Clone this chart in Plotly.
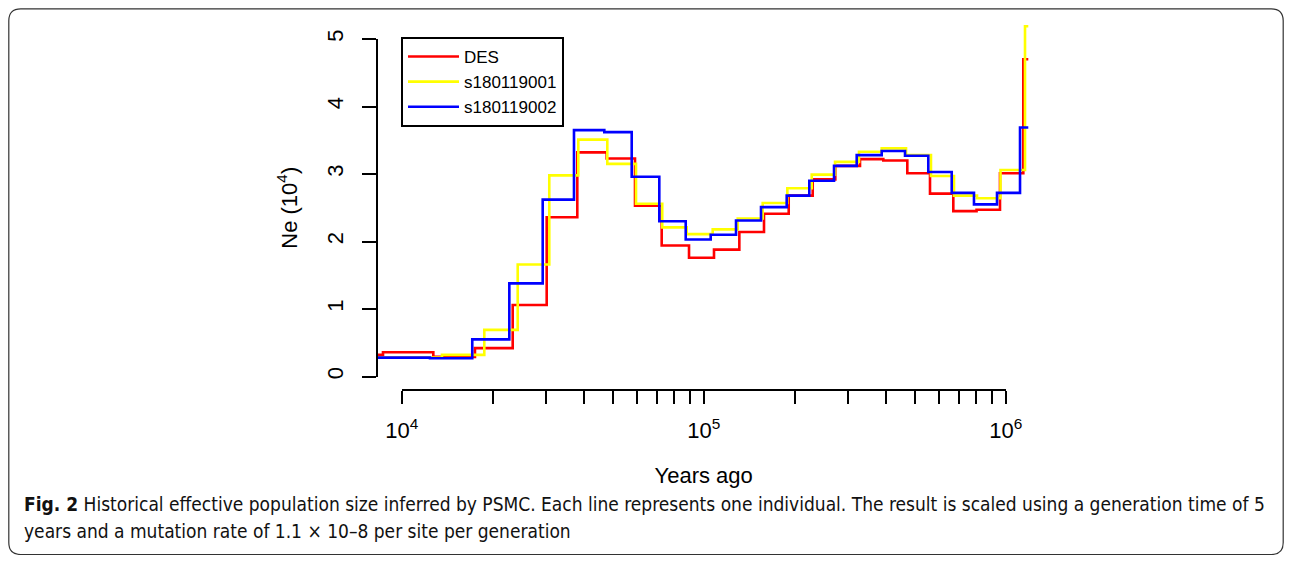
import plotly.graph_objects as go

# ---------------- data (years ago, Ne in units of 10^4) ----------------
des_years = [8283, 8671, 12725, 17481, 23311, 30206, 38146, 47730, 59225, 72594,
             89413, 108170, 131220, 158370, 191200, 229600, 272800, 329300, 393300,
             472300, 561500, 670700, 800700, 957400, 1143700, 1188000]
des_ne = [0.32, 0.36, 0.29, 0.42, 1.06, 2.36, 3.32, 3.23, 2.53, 1.94,
          1.76, 1.88, 2.14, 2.41, 2.68, 2.92, 3.12, 3.22, 3.20,
          3.01, 2.71, 2.45, 2.47, 3.01, 4.70, 4.70]

s1_years = [8283, 13594, 18771, 24218, 30810, 38437, 47950, 59690, 72900, 87860,
            107110, 129630, 156800, 189200, 227900, 272200, 326800, 388500,
            467700, 565700, 674300, 803500, 961100, 1158600, 1188000]
s1_ne = [0.28, 0.32, 0.69, 1.66, 2.98, 3.51, 3.15, 2.56, 2.21, 2.11,
         2.18, 2.34, 2.57, 2.79, 2.99, 3.18, 3.33, 3.38,
         3.28, 2.97, 2.68, 2.64, 3.06, 5.19, 5.19]

s2_years = [8283, 12406, 17126, 22717, 29301, 37197, 46870, 57760, 71280, 87190,
            105480, 127940, 154800, 188300, 223700, 270100, 321100, 388500,
            464100, 554200, 662600, 785200, 935900, 1115400, 1188000]
s2_ne = [0.28, 0.27, 0.55, 1.38, 2.62, 3.65, 3.62, 2.96, 2.30, 2.03,
         2.10, 2.31, 2.51, 2.68, 2.90, 3.12, 3.28, 3.34,
         3.27, 3.03, 2.72, 2.55, 2.72, 3.69, 3.69]

series_names = ["DES", "s180119001", "s180119002"]
series_colors = ["#FF0000", "#FFFF00", "#0000FF"]

x_major_vals = [1e4, 1e5, 1e6]
x_major_text = ["10<sup>4</sup>", "10<sup>5</sup>", "10<sup>6</sup>"]
x_minor_vals = [2e4, 3e4, 4e4, 5e4, 6e4, 7e4, 8e4, 9e4,
                2e5, 3e5, 4e5, 5e5, 6e5, 7e5, 8e5, 9e5]
y_tick_vals = [0, 1, 2, 3, 4, 5]

caption_bold = "Fig. 2"
caption_line1 = (" Historical effective population size inferred by PSMC. Each line represents "
                 "one individual. The result is scaled using a generation time of 5")
caption_line2 = "years and a mutation rate of 1.1 × 10–8 per site per generation"

# ---------------- geometry helpers (page pixels -> paper) ----------------
OFF = 8                      # default body margin of the html page
W, H = 1292 - 2 * OFF, 563 - 2 * OFF
def px(x):
    return (x - OFF) / W
def py(y):
    return 1 - (y - OFF) / H

X0PX, DEC = 401.7, 302.0      # page pixel of 10^4, pixels per decade
Y0PX, UNIT = 376.5, 67.5      # page pixel of Ne=0, pixels per unit

def xlog_at(p):
    return 4 + (p - X0PX) / DEC

def yval_at(p):
    return (Y0PX - p) / UNIT

plot_l, plot_r = 377, 1040
plot_t, plot_b = 12, 397

FONT = "Liberation Sans, Arial, Helvetica, sans-serif"

fig = go.Figure()
for xs, ys, name, col in zip([des_years, s1_years, s2_years],
                             [des_ne, s1_ne, s2_ne], series_names, series_colors):
    fig.add_trace(go.Scatter(x=xs, y=ys, mode="lines", name=name,
                             line=dict(color=col, width=2.6, shape="hv"),
                             xaxis="x", yaxis="y", hoverinfo="skip"))

# invisible trace hosting the display axes
fig.add_trace(go.Scatter(x=[1e4], y=[0], mode="markers", marker=dict(opacity=0),
                         xaxis="x2", yaxis="y2", showlegend=False, hoverinfo="skip"))

fig.update_layout(
    width=W, height=H, autosize=False,
    margin=dict(l=0, r=0, t=0, b=0),
    paper_bgcolor="white", plot_bgcolor="rgba(0,0,0,0)",
    font=dict(family=FONT, color="black"),
    xaxis=dict(type="log", domain=[px(plot_l), px(plot_r)],
               range=[xlog_at(plot_l), xlog_at(plot_r)],
               showline=False, showgrid=False, zeroline=False, showticklabels=False,
               ticks="", anchor="y"),
    yaxis=dict(domain=[py(plot_b), py(plot_t)],
               range=[yval_at(plot_b), yval_at(plot_t)],
               showline=False, showgrid=False, zeroline=False, showticklabels=False,
               ticks="", anchor="x"),
    xaxis2=dict(type="log", domain=[px(X0PX), px(X0PX + 2 * DEC)], range=[4, 6],
                anchor="free", position=py(390), showgrid=False, zeroline=False,
                showline=True, linecolor="black", linewidth=2,
                ticks="outside", ticklen=13, tickwidth=2, tickcolor="black",
                tickmode="array", tickvals=x_major_vals, ticktext=x_major_text,
                minor=dict(tickmode="array", tickvals=x_minor_vals, ticks="outside",
                           ticklen=13, tickwidth=2, tickcolor="black", showgrid=False),
                tickfont=dict(size=22, family=FONT), ticklabelstandoff=8,
                title=dict(text="Years ago", font=dict(size=22, family=FONT), standoff=24),
                automargin=False),
    yaxis2=dict(domain=[py(Y0PX), py(Y0PX - 5 * UNIT)], range=[0, 5],
                anchor="free", position=px(377), showgrid=False, zeroline=False,
                showline=True, linecolor="black", linewidth=2,
                ticks="outside", ticklen=14, tickwidth=2, tickcolor="black",
                tickmode="array", tickvals=y_tick_vals, tickangle=-90,
                tickfont=dict(size=22, family=FONT), ticklabelstandoff=10,
                title=dict(text="Ne (10<sup>4</sup>)", font=dict(size=22, family=FONT), standoff=19),
                automargin=False),
    legend=dict(x=px(401), y=py(37), xanchor="left", yanchor="top",
                bordercolor="black", borderwidth=2, bgcolor="white",
                font=dict(size=17, family=FONT), itemwidth=51,
                tracegroupgap=0),
    showlegend=True,
)

# rounded frame around the figure
L, R, T, B, r = 8.8, 1283.2, 8.8, 554.5, 12
path = (f"M {px(L + r)},{py(T)} L {px(R - r)},{py(T)} Q {px(R)},{py(T)} {px(R)},{py(T + r)} "
        f"L {px(R)},{py(B - r)} Q {px(R)},{py(B)} {px(R - r)},{py(B)} "
        f"L {px(L + r)},{py(B)} Q {px(L)},{py(B)} {px(L)},{py(B - r)} "
        f"L {px(L)},{py(T + r)} Q {px(L)},{py(T)} {px(L + r)},{py(T)} Z")
fig.add_shape(type="path", path=path, xref="paper", yref="paper",
              line=dict(color="#333333", width=1.2))

CAP_FONT = "Liberation Sans Narrow, DejaVu Sans Condensed, Arial Narrow, sans-serif"
fig.add_annotation(x=px(22), y=py(504), xref="paper", yref="paper", xanchor="left",
                   yanchor="middle", showarrow=False, align="left",
                   text=f"<b>{caption_bold}</b>{caption_line1}",
                   font=dict(size=19, family=CAP_FONT, color="#111111"))
fig.add_annotation(x=px(22), y=py(531), xref="paper", yref="paper", xanchor="left",
                   yanchor="middle", showarrow=False, align="left",
                   text=caption_line2,
                   font=dict(size=19, family=CAP_FONT, color="#111111"))

fig.write_html("out.html")
